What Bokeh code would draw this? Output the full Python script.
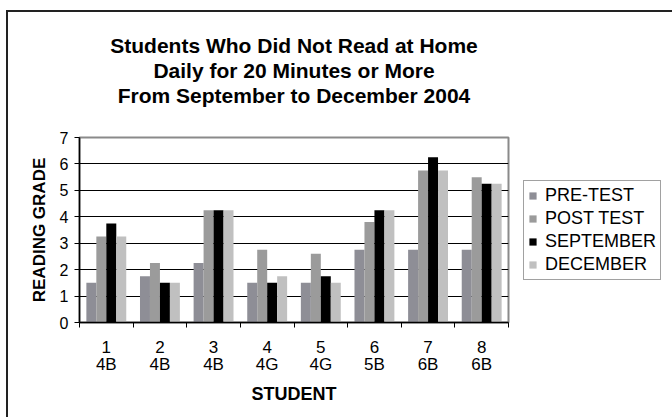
from bokeh.plotting import figure
from bokeh.models import (Range1d, FixedTicker, Legend, LegendItem, Title,
                          ColumnDataSource)
from bokeh.embed import file_html
from bokeh.resources import INLINE

# ---- data ----
students = ["1", "2", "3", "4", "5", "6", "7", "8"]
classes = ["4B", "4B", "4B", "4G", "4G", "5B", "6B", "6B"]
series_names = ["PRE-TEST", "POST TEST", "SEPTEMBER", "DECEMBER"]
pre_test = [1.5, 1.75, 2.25, 1.5, 1.5, 2.75, 2.75, 2.75]
post_test = [3.25, 2.25, 4.25, 2.75, 2.6, 3.8, 5.75, 5.5]
september = [3.75, 1.5, 4.25, 1.5, 1.75, 4.25, 6.25, 5.25]
december = [3.25, 1.5, 4.25, 1.75, 1.5, 4.25, 5.75, 5.25]
y_ticks = [0, 1, 2, 3, 4, 5, 6, 7]
title_lines = ["Students Who Did Not Read at Home",
               "Daily for 20 Minutes or More",
               "From September to December 2004"]
x_title = "STUDENT"
y_title = "READING GRADE"

colors = ["#8e8e96", "#9b9b9b", "#000000", "#c0c0c0"]
FONT = "Liberation Sans"

n = len(students)
pos = list(range(1, n + 1))

p = figure(frame_width=429, frame_height=185, output_backend="svg", toolbar_location=None,
           x_range=Range1d(0.5, n + 0.5), y_range=Range1d(y_ticks[0], y_ticks[-1]),
           min_border_left=71, min_border_right=164, min_border_top=125,
           min_border_bottom=95, background_fill_color="white",
           border_fill_color="white")
p.styles = {"margin-left": "6px", "margin-top": "10px",
            "border-left": "2px solid #222222", "border-top": "2px solid #222222"}

p.outline_line_color = "#8a8a8a"
p.outline_line_width = 2

bar_w = 0.186
offsets = [-1.5 * bar_w, -0.5 * bar_w, 0.5 * bar_w, 1.5 * bar_w]
all_vals = [pre_test, post_test, september, december]
items = []
for name, vals, off, col in zip(series_names, all_vals, offsets, colors):
    src = ColumnDataSource(dict(x=[v + off for v in pos], top=vals))
    r = p.vbar(x="x", top="top", bottom=0, width=bar_w, source=src,
               fill_color=col, line_color=None)
    items.append(LegendItem(label=name, renderers=[r]))

# grid
p.xgrid.visible = False
p.ygrid.ticker = FixedTicker(ticks=y_ticks)
p.ygrid.grid_line_color = "#000000"
p.ygrid.grid_line_width = 1

# y axis
p.yaxis.ticker = FixedTicker(ticks=y_ticks)
p.yaxis.axis_line_color = "#000000"
p.yaxis.axis_line_width = 1.5
p.yaxis.major_tick_out = 5
p.yaxis.major_tick_in = 0
p.yaxis.minor_tick_line_color = None
p.yaxis.major_label_text_font = FONT
p.yaxis.major_label_text_font_size = "16px"
p.yaxis.major_label_text_color = "#000000"
p.yaxis.major_label_standoff = 6
p.yaxis.axis_label = y_title
p.yaxis.axis_label_text_font = FONT
p.yaxis.axis_label_text_font_style = "bold"
p.yaxis.axis_label_text_font_size = "17px"
p.yaxis.axis_label_text_color = "#000000"
p.yaxis.axis_label_standoff = 8

# x axis
p.xaxis.ticker = FixedTicker(ticks=pos, minor_ticks=[v - 0.5 for v in pos] + [n + 0.5])
p.xaxis.major_label_overrides = {v: f"{s}\n{c}" for v, s, c in zip(pos, students, classes)}
p.xaxis.axis_line_color = "#000000"
p.xaxis.axis_line_width = 1.5
p.xaxis.major_tick_out = 0
p.xaxis.major_tick_in = 0
p.xaxis.minor_tick_out = 5
p.xaxis.minor_tick_in = 0
p.xaxis.minor_tick_line_color = "#000000"
p.xaxis.major_label_text_font = FONT
p.xaxis.major_label_text_font_size = "17px"
p.xaxis.major_label_text_line_height = 0.9
p.xaxis.major_label_text_color = "#000000"
p.xaxis.major_label_standoff = 10
p.xaxis.axis_label = x_title
p.xaxis.axis_label_text_font = FONT
p.xaxis.axis_label_text_font_style = "bold"
p.xaxis.axis_label_text_font_size = "18px"
p.xaxis.axis_label_text_color = "#000000"
p.xaxis.axis_label_standoff = 7

# legend
legend = Legend(items=items, location="center_left", margin=15, padding=4,
                spacing=2, label_height=18, glyph_height=9, glyph_width=9,
                label_standoff=8, border_line_color="#444444", border_line_width=1,
                label_text_font=FONT, label_text_font_size="18px",
                label_text_color="#000000", background_fill_alpha=1)
p.add_layout(legend, "right")

# spacer between the title block and the plot area
p.add_layout(Title(text=" ", standoff=28, text_font_size="1px"), "above")
# title: one Title per line, nearest-to-frame first
for line in reversed(title_lines):
    p.add_layout(Title(text=line, align="center", standoff=0,
                       text_font=FONT, text_font_style="bold", text_font_size="21px",
                       text_line_height=1.0, text_color="#000000"), "above")

open("out.html", "w").write(file_html(p, INLINE))
